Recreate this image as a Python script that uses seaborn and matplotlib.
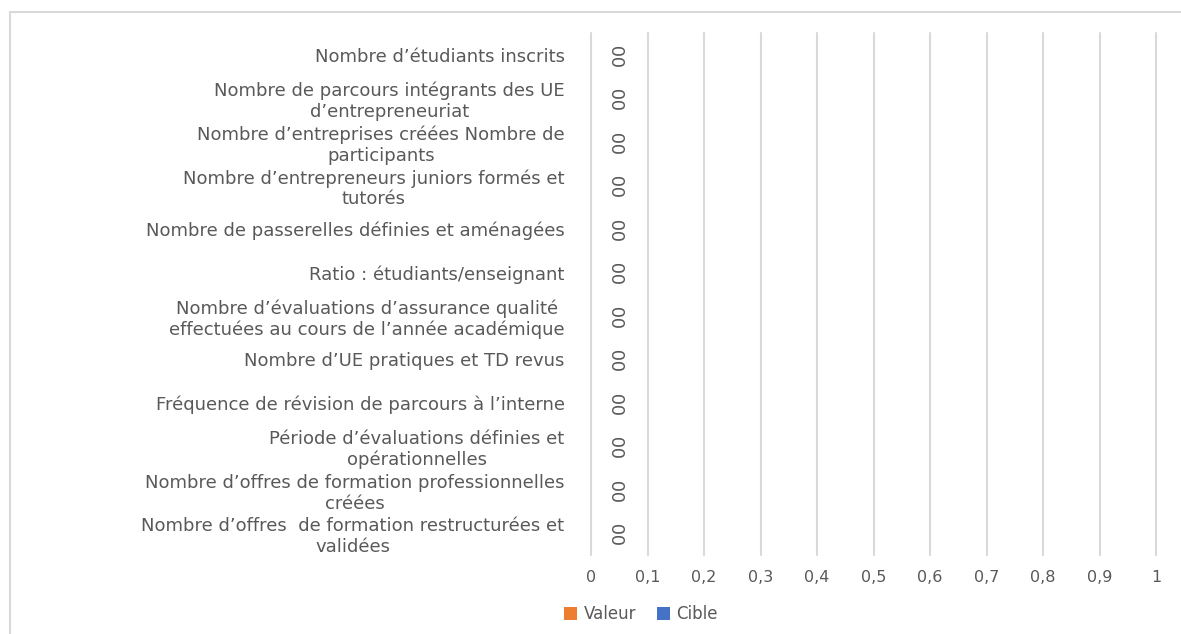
import pandas as pd
import matplotlib
matplotlib.use("Agg")
import matplotlib.pyplot as plt
import seaborn as sns
from matplotlib.patches import Rectangle

indicateurs = [
    "Nombre d’étudiants inscrits",
    "Nombre de parcours intégrants des UE\nd’entrepreneuriat",
    "Nombre d’entreprises créées Nombre de\nparticipants",
    "Nombre d’entrepreneurs juniors formés et\ntutorés",
    "Nombre de passerelles définies et aménagées",
    "Ratio : étudiants/enseignant",
    "Nombre d’évaluations d’assurance qualité\neffectuées au cours de l’année académique",
    "Nombre d’UE pratiques et TD revus",
    "Fréquence de révision de parcours à l’interne",
    "Période d’évaluations définies et\nopérationnelles",
    "Nombre d’offres de formation professionnelles\ncréées",
    "Nombre d’offres  de formation restructurées et\nvalidées",
]
valeur = [0, 0, 0, 0, 0, 0, 0, 0, 0, 0, 0, 0]
cible = [0, 0, 0, 0, 0, 0, 0, 0, 0, 0, 0, 0]
x_ticks = [0, 0.1, 0.2, 0.3, 0.4, 0.5, 0.6, 0.7, 0.8, 0.9, 1]

df = pd.DataFrame({
    "Indicateur": indicateurs * 2,
    "Montant": valeur + cible,
    "Série": ["Valeur"] * len(valeur) + ["Cible"] * len(cible),
})

sns.set_style("white")
plt.rcParams["font.family"] = ["DejaVu Sans"]
grey = "#595959"

W, H = 1181, 634
fig = plt.figure(figsize=(W / 100, H / 100), dpi=100)

# cadre du graphique (coupé à droite et en bas)
fig.patches.append(Rectangle((10 / W, -0.1), 2, 1.1 - 12 / H, transform=fig.transFigure,
                             fill=False, edgecolor="#d9d9d9", linewidth=1.5))

ax = fig.add_axes([591 / W, 1 - 555 / H, 565 / W, 522 / H])
ax.set_axisbelow(True)
sns.barplot(data=df, y="Indicateur", x="Montant", hue="Série",
            palette={"Valeur": "#ED7D31", "Cible": "#4472C4"}, saturation=1,
            width=0.5, orient="h", ax=ax, legend=True, linewidth=0)

for c in ax.containers:
    ax.bar_label(c, labels=["0"] * len(c), padding=14, rotation=90,
                 fontsize=13, color=grey)

ax.set_xlim(0, 1)
ax.set_ylim(len(indicateurs) - 0.5, -0.5)
ax.set_xticks(x_ticks)
ax.set_xticklabels([("%g" % t).replace(".", ",") for t in x_ticks])
ax.xaxis.grid(True, color="#d9d9d9", linewidth=1.5)
for gl in ax.get_xgridlines():
    gl.set_clip_on(False)
ax.yaxis.grid(False)
for s in ax.spines.values():
    s.set_visible(False)
ax.tick_params(axis="x", length=0, pad=11, labelsize=11.5, labelcolor=grey)
ax.tick_params(axis="y", length=0, pad=19, labelsize=13, labelcolor=grey)
for t in ax.get_yticklabels():
    t.set_multialignment("center")
ax.set_xlabel("")
ax.set_ylabel("")

handles, labels = ax.get_legend_handles_labels()
ax.get_legend().remove()
fig.legend(handles, labels, loc="center", bbox_to_anchor=(641 / W, 1 - 614 / H),
           ncol=2, frameon=False, fontsize=12, labelcolor=grey,
           handlelength=0.8, handleheight=0.8, handletextpad=0.4, columnspacing=1.2)

fig.savefig("out.png", dpi=100, facecolor="white")
